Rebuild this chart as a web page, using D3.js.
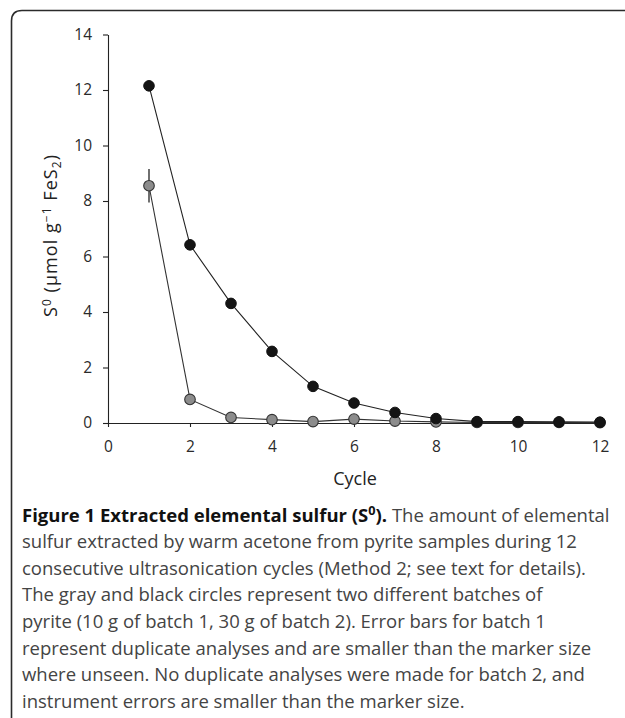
<!DOCTYPE html>
<html>
<head>
<meta charset="utf-8">
<script src="https://cdn.jsdelivr.net/npm/d3@7"></script>
<style>
  body { margin: 0; background: #fff; }
  svg { display: block; }
</style>
</head>
<body>
<div id="chart"></div>
<script>
// cycle numbers and extracted S0 per batch (umol/g FeS2)
var cycles = [1, 2, 3, 4, 5, 6, 7, 8, 9, 10, 11, 12];
var batch1 = [8.55, 0.85, 0.2, 0.12, 0.05, 0.14, 0.07, 0.04, 0.02, 0.02, 0.02, 0.01];
var batch1Err = [0.6, 0, 0, 0, 0, 0, 0, 0, 0, 0, 0, 0];
var batch2 = [12.15, 6.42, 4.31, 2.58, 1.32, 0.72, 0.38, 0.16, 0.05, 0.05, 0.04, 0.03];
var xTicks = [0, 2, 4, 6, 8, 10, 12];
var yTicks = [0, 2, 4, 6, 8, 10, 12, 14];

var captionLines = [
  "sulfur extracted by warm acetone from pyrite samples during 12",
  "consecutive ultrasonication cycles (Method 2; see text for details).",
  "The gray and black circles represent two different batches of",
  "pyrite (10 g of batch 1, 30 g of batch 2). Error bars for batch 1",
  "represent duplicate analyses and are smaller than the marker size",
  "where unseen. No duplicate analyses were made for batch 2, and",
  "instrument errors are smaller than the marker size."
];

var W = 625, H = 718;
var font = "'Open Sans', sans-serif";

var svg = d3.select("#chart")
  .append("svg")
    .attr("width", W)
    .attr("height", H);

// frame: rounded top-left corner, open to the right and bottom
svg.append("path")
  .attr("d", "M625,10.5 H22 Q11.5,10.5 11.5,21 V718")
  .attr("fill", "none")
  .attr("stroke", "#2b2b2b")
  .attr("stroke-width", 1.6);

var x = d3.scaleLinear().domain([0, 12]).range([108, 600]);
var y = d3.scaleLinear().domain([0, 14]).range([423, 34.5]);

// y axis
var yAxis = svg.append("g")
  .attr("transform", "translate(" + x(0) + ",0)")
  .call(d3.axisLeft(y).tickValues(yTicks).tickSize(5).tickPadding(11).tickSizeOuter(0));

// x axis
var xAxis = svg.append("g")
  .attr("transform", "translate(0," + y(0) + ")")
  .call(d3.axisBottom(x).tickValues(xTicks).tickSize(5).tickPadding(13).tickSizeOuter(0));

[xAxis, yAxis].forEach(function(g) {
  g.attr("font-family", font).attr("font-size", 15.5);
  g.select(".domain").attr("stroke", "#222").attr("stroke-width", 1.1);
  g.selectAll(".tick line").attr("stroke", "#222").attr("stroke-width", 1.1);
  g.selectAll(".tick text").attr("fill", "#2a2a2a");
});
xAxis.selectAll(".tick line").attr("y2", 4);

// axis titles
svg.append("text")
  .attr("x", 355)
  .attr("y", 485)
  .attr("text-anchor", "middle")
  .attr("fill", "#222")
  .attr("font-family", font)
  .attr("font-size", 18)
  .text("Cycle");

var ylab = svg.append("text")
  .attr("transform", "translate(57,236) rotate(-90)")
  .attr("text-anchor", "middle")
  .attr("fill", "#222")
  .attr("font-family", font)
  .attr("font-size", 18)
  .attr("textLength", 162)
  .attr("lengthAdjust", "spacing");
ylab.append("tspan").text("S");
ylab.append("tspan").attr("dy", -6).attr("font-size", 12).text("0");
ylab.append("tspan").attr("dy", 6).text(" (\u00b5mol g");
ylab.append("tspan").attr("dy", -6).attr("font-size", 12).text("\u22121");
ylab.append("tspan").attr("dy", 6).text(" FeS");
ylab.append("tspan").attr("dy", 4).attr("font-size", 12).text("2");
ylab.append("tspan").attr("dy", -4).text(")");

// series
var b1 = cycles.map(function(c, i) { return {c: c, v: batch1[i], e: batch1Err[i]}; });
var b2 = cycles.map(function(c, i) { return {c: c, v: batch2[i]}; });

var line = d3.line()
  .x(function(d) { return x(d.c); })
  .y(function(d) { return y(d.v); });

svg.append("path")
  .datum(b1)
  .attr("d", line)
  .attr("fill", "none")
  .attr("stroke", "#333")
  .attr("stroke-width", 1.1);

// error bars for batch 1
svg.selectAll(".err")
  .data(b1.filter(function(d) { return d.e > 0; }))
  .enter()
  .append("line")
    .attr("x1", function(d) { return x(d.c); })
    .attr("x2", function(d) { return x(d.c); })
    .attr("y1", function(d) { return y(d.v + d.e); })
    .attr("y2", function(d) { return y(d.v - d.e); })
    .attr("stroke", "#222")
    .attr("stroke-width", 1.3);

svg.selectAll(".dot1")
  .data(b1)
  .enter()
  .append("circle")
    .attr("cx", function(d) { return x(d.c); })
    .attr("cy", function(d) { return y(d.v); })
    .attr("r", 5.3)
    .attr("fill", "#8c8c8c")
    .attr("stroke", "#333")
    .attr("stroke-width", 1.1);

svg.append("path")
  .datum(b2)
  .attr("d", line)
  .attr("fill", "none")
  .attr("stroke", "#222")
  .attr("stroke-width", 1.1);

svg.selectAll(".dot2")
  .data(b2)
  .enter()
  .append("circle")
    .attr("cx", function(d) { return x(d.c); })
    .attr("cy", function(d) { return y(d.v); })
    .attr("r", 5.3)
    .attr("fill", "#141414")
    .attr("stroke", "#111")
    .attr("stroke-width", 1);

// caption
var capX = 22, capY = 521.5, capStep = 26.6, capSize = 17.5;
var cap = svg.append("g").attr("font-family", font).attr("font-size", capSize);

var first = cap.append("text").attr("x", capX).attr("y", capY).attr("fill", "#444");
first.append("tspan").attr("font-weight", "bold").attr("fill", "#111").text("Figure 1 Extracted elemental sulfur (S");
var sup = first.append("tspan").attr("font-weight", "bold").attr("fill", "#111").attr("dy", -7).attr("font-size", 12).text("0");
first.append("tspan").attr("font-weight", "bold").attr("fill", "#111").attr("dy", 7).text(").");
first.append("tspan").text(" The amount of elemental");

cap.selectAll(".cl")
  .data(captionLines)
  .enter()
  .append("text")
    .attr("x", capX)
    .attr("y", function(d, i) { return capY + capStep * (i + 1); })
    .attr("fill", "#444")
    .text(function(d) { return d; });

// fit caption width to the reference (first line ends near x=610)
var w0 = first.node().getComputedTextLength();
var k = (610 - capX) / w0;
cap.attr("font-size", capSize * k);
sup.attr("font-size", 12 * k);
</script>
</body>
</html>
